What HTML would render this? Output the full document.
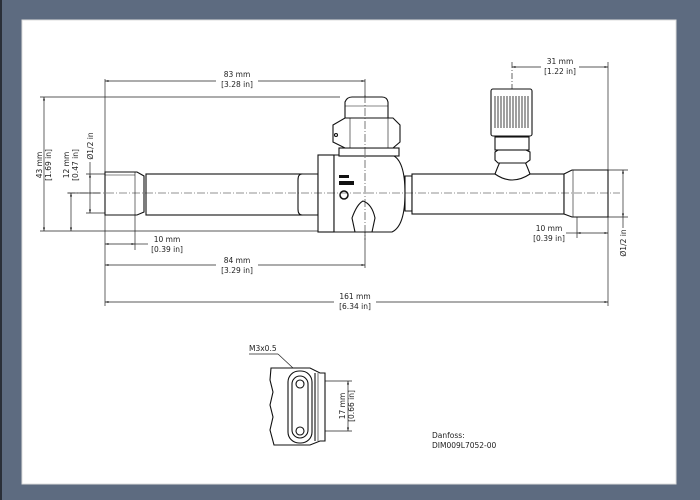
<!DOCTYPE html>
<html><head><meta charset="utf-8"><style>
html,body{margin:0;padding:0;background:#5d6b80;}
svg{display:block;}
text{font-family:"DejaVu Sans","Liberation Sans",sans-serif;font-size:7.5px;fill:#222;}
</style></head><body>
<svg width="700" height="500" viewBox="0 0 700 500" xmlns="http://www.w3.org/2000/svg">
<defs>
<marker id="a" viewBox="0 0 10 10" refX="10" refY="5" markerWidth="5" markerHeight="5" orient="auto-start-reverse"><path d="M0,2 L10,5 L0,8z" fill="#222"/></marker>
</defs>
<rect x="0" y="0" width="700" height="500" fill="#5d6b80"/>
<rect x="0" y="0" width="2" height="500" fill="#2a2f38"/>
<rect x="22" y="20" width="654" height="464" fill="#fff" stroke="#ddd" stroke-width="1"/>

<g stroke="#222" stroke-width="0.7" fill="none">
<line x1="105" y1="79" x2="105" y2="306"/>
<line x1="365" y1="79" x2="365" y2="268"/>
<line x1="608" y1="62" x2="608" y2="306"/>
<line x1="512" y1="62" x2="512" y2="180" stroke-dasharray="6,2,1,2"/>
<line x1="40" y1="97" x2="340" y2="97"/>
<line x1="40" y1="231" x2="320" y2="231"/>
<line x1="68" y1="193" x2="100" y2="193"/>
<line x1="86" y1="174" x2="105" y2="174"/>
<line x1="86" y1="213" x2="105" y2="213"/>
<line x1="135" y1="213" x2="135" y2="250"/>
<line x1="577" y1="217" x2="577" y2="238"/>
<line x1="608" y1="170" x2="628" y2="170"/>
<line x1="608" y1="217" x2="628" y2="217"/>
<line x1="105" y1="81" x2="365" y2="81" marker-start="url(#a)" marker-end="url(#a)"/>
<line x1="44" y1="97" x2="44" y2="231" marker-start="url(#a)" marker-end="url(#a)"/>
<line x1="71" y1="193" x2="71" y2="231" marker-start="url(#a)" marker-end="url(#a)"/>
<line x1="90" y1="174" x2="90" y2="213" marker-start="url(#a)" marker-end="url(#a)"/>
<line x1="90" y1="174" x2="90" y2="162"/>
<line x1="105" y1="244" x2="135" y2="244" marker-start="url(#a)" marker-end="url(#a)"/>
<line x1="135" y1="244" x2="148" y2="244"/>
<line x1="105" y1="265" x2="365" y2="265" marker-start="url(#a)" marker-end="url(#a)"/>
<line x1="105" y1="302" x2="608" y2="302" marker-start="url(#a)" marker-end="url(#a)"/>
<line x1="512" y1="67" x2="608" y2="67" marker-start="url(#a)" marker-end="url(#a)"/>
<line x1="577" y1="233" x2="608" y2="233" marker-start="url(#a)" marker-end="url(#a)"/>
<line x1="566" y1="233" x2="577" y2="233"/>
<line x1="623" y1="170" x2="623" y2="217" marker-start="url(#a)" marker-end="url(#a)"/>
<line x1="623" y1="217" x2="623" y2="228"/>
</g>
<g fill="#fff">
<rect x="216" y="70" width="42" height="20"/><rect x="216" y="255" width="42" height="20"/>
<rect x="334" y="291" width="42" height="20"/><rect x="541" y="57" width="38" height="20"/>
</g>
<g text-anchor="middle">
<text x="237" y="77">83 mm</text><text x="237" y="87">[3.28 in]</text>
<text x="237" y="263">84 mm</text><text x="237" y="273">[3.29 in]</text>
<text x="355" y="299">161 mm</text><text x="355" y="309">[6.34 in]</text>
<text x="560" y="64">31 mm</text><text x="560" y="74">[1.22 in]</text>
<text x="167" y="242">10 mm</text><text x="167" y="252">[0.39 in]</text>
<text x="549" y="231">10 mm</text><text x="549" y="241">[0.39 in]</text>
<text transform="translate(42,165) rotate(-90)">43 mm</text>
<text transform="translate(51,165) rotate(-90)">[1.69 in]</text>
<text transform="translate(69,165) rotate(-90)">12 mm</text>
<text transform="translate(78,165) rotate(-90)">[0.47 in]</text>
<text transform="translate(93,146) rotate(-90)">Ø1/2 in</text>
<text transform="translate(626,243) rotate(-90)">Ø1/2 in</text>
<text transform="translate(345,406) rotate(-90)">17 mm</text>
<text transform="translate(354,406) rotate(-90)">[0.66 in]</text>
</g>

<g stroke="#111" stroke-width="1.1" fill="#fff">
<path d="M105,172 H137 L144,176 V212 L137,215 H105 Z"/>
<line x1="135" y1="172" x2="135" y2="215" stroke-width="0.6"/>
<line x1="105" y1="175" x2="135" y2="175" stroke-width="0.6"/>
<rect x="146" y="174" width="156" height="41"/>
<path d="M302,174 Q298,174 298,180 V209 Q298,215 302,215 H318 V174 Z"/>
<rect x="318" y="155" width="16" height="77"/>
<path d="M334,155 H392 Q405,160 405,193 Q405,226 392,232 H334 Z"/>
<path d="M405,176 H412 V211 H405 Z"/>
<rect x="339" y="148" width="60" height="8"/>
<path d="M333,125 L345,118 H393 L400,125 V142 L393,148 H345 L333,142 Z"/>
<line x1="350" y1="118" x2="350" y2="148" stroke-width="0.6"/>
<line x1="388" y1="118" x2="388" y2="148" stroke-width="0.6"/>
<path d="M345,118 V102 Q347,97 352,97 H382 Q387,97 388,102 V118 Z"/>
<line x1="345" y1="106" x2="388" y2="106" stroke-width="0.6"/>
<circle cx="336" cy="135" r="1.5"/>
<path d="M355,232 L352,218 Q357,204 363,201 Q372,204 375,218 L372,232 Z"/>
<rect x="412" y="174" width="152" height="40"/>
<path d="M564,174 L572,170 H608 V217 H572 L564,214 Z"/>
<line x1="573" y1="170" x2="573" y2="217" stroke-width="0.6"/>
<path d="M495,174 Q498,166 500,162 H525 Q527,166 530,174 Q512,186 495,174 Z"/>
<path d="M495,152 L498,150 H526 L530,152 V160 L526,163 H498 L495,160 Z"/>
<rect x="495" y="137" width="34" height="13"/>
<rect x="491" y="89" width="41" height="47" rx="2"/>
</g>
<g stroke="#111" stroke-width="0.8">
<path d="M495,96 V128 M498,96 V128 M501,96 V128 M504,96 V128 M507,96 V128 M510,96 V128 M513,96 V128 M516,96 V128 M519,96 V128 M522,96 V128 M525,96 V128 M528,96 V128"/>
</g>
<g fill="#111">
<rect x="339" y="175" width="10" height="3"/><rect x="339" y="181" width="15" height="4"/>
<circle cx="344" cy="195" r="4" fill="none" stroke="#111" stroke-width="1.5"/>
</g>
<g stroke="#222" stroke-width="0.6" stroke-dasharray="8,2,1,2">
<line x1="67" y1="193" x2="620" y2="193"/>
<line x1="365" y1="95" x2="365" y2="240"/>
</g>

<text x="249" y="351">M3x0.5</text>
<g stroke="#222" stroke-width="0.7" fill="none">
<line x1="249" y1="354" x2="278" y2="354"/>
<line x1="278" y1="354" x2="293" y2="368"/>
<line x1="325" y1="381" x2="352" y2="381"/>
<line x1="325" y1="431" x2="352" y2="431"/>
<line x1="348" y1="381" x2="348" y2="431" marker-start="url(#a)" marker-end="url(#a)"/>
</g>
<g stroke="#111" stroke-width="1.1" fill="#fff">
<path d="M271,368 H310 L320,373 H325 V441 H320 L310,445 H274 L270,430 L273,417 L270,405 L273,392 L270,380 Z"/>
<rect x="288" y="371" width="24" height="72" rx="11"/>
<rect x="292" y="376" width="16" height="62" rx="8"/>
<circle cx="300" cy="384" r="4"/><circle cx="300" cy="431" r="4"/>
<line x1="315" y1="373" x2="315" y2="441"/>
<line x1="318" y1="373" x2="318" y2="441" stroke-width="0.6"/>
</g>
<text x="432" y="438">Danfoss:</text>
<text x="432" y="448">DIM009L7052-00</text>
</svg>
</body></html>
